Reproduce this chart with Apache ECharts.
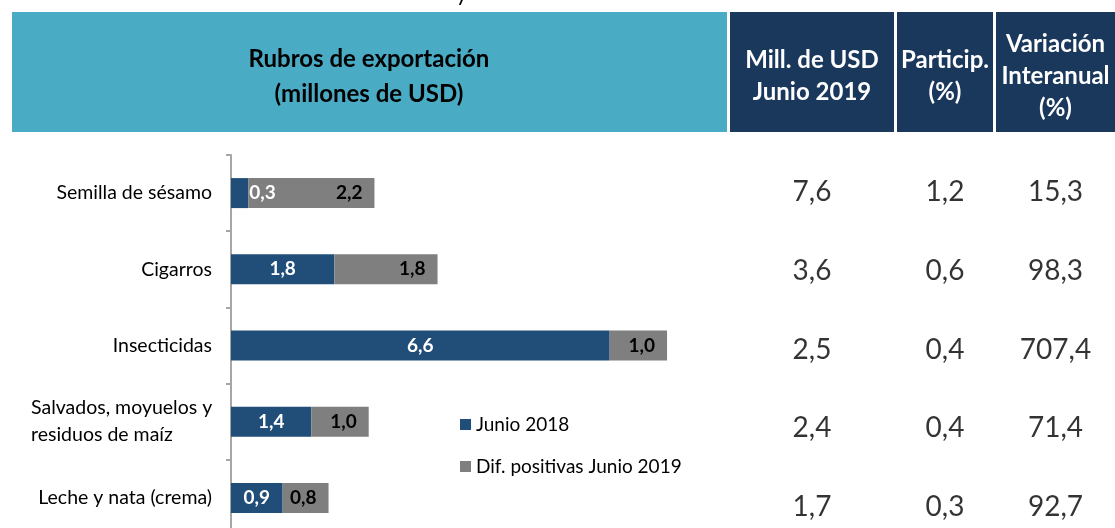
<!DOCTYPE html>
<html lang="es">
<head>
  <meta charset="UTF-8">
  <title>Rubros de exportación</title>
  <script src="https://cdn.jsdelivr.net/npm/echarts@6/dist/echarts.min.js"></script>
  <style>
    html, body { margin: 0; padding: 0; background: #fff; overflow: hidden; }
    #chart { width: 1115px; height: 528px; }
  </style>
</head>
<body>
<div id="chart"></div>
<script>
  // datos
  var rubros = ['Semilla de sésamo', 'Cigarros', 'Insecticidas', 'Salvados, moyuelos y\nresiduos de maíz', 'Leche y nata (crema)'];
  var junio2018 = [0.3, 1.8, 6.6, 1.4, 0.9];
  var difPositivas = [2.2, 1.8, 1.0, 1.0, 0.8];
  var millUsd = [7.6, 3.6, 2.5, 2.4, 1.7];
  var particip = [1.2, 0.6, 0.4, 0.4, 0.3];
  var variacion = [15.3, 98.3, 707.4, 71.4, 92.7];
  var encabezado = 'Rubros de exportación\n(millones de USD)';
  var columnas = ['Mill. de USD\nJunio 2019', 'Particip.\n(%)', 'Variación\nInteranual\n(%)'];

  var FONT = 'Lato, "Open Sans", sans-serif';
  var AZUL = '#214e78', GRIS = '#7f7f7f', TEAL = '#4aabc5', NAVY = '#1a375c';

  function coma(v) { return v.toFixed(1).replace('.', ','); }

  var chart = echarts.init(document.getElementById('chart'));

  // celdas de la tabla (una grilla por columna)
  var celdas = [
    { left: 730, width: 164 },
    { left: 897, width: 96 },
    { left: 996, width: 119 }
  ];
  var tablas = [millUsd, particip, variacion];

  // el eje sigue por debajo del borde inferior, como en el original
  var grids = [{ left: 231, top: 155, width: 459, height: 381, outerBoundsMode: 'none', containLabel: false }];
  var xAxes = [{ type: 'value', min: 0, max: 8, show: false, gridIndex: 0 }];
  var yAxes = [{
    type: 'category', data: rubros, inverse: true, gridIndex: 0,
    axisLine: { lineStyle: { color: '#a6a6a6', width: 2 } },
    axisTick: { show: true, length: 5, lineStyle: { color: '#a6a6a6', width: 2 } },
    axisLabel: {
      color: '#000', fontSize: 19.5, fontFamily: FONT, margin: 19,
      formatter: function (v) {
        if (v.indexOf('\n') < 0) return v;
        return v.split('\n').map(function (l) { return '{m|' + l + '}'; }).join('\n');
      },
      rich: { m: { width: 181, align: 'left', fontSize: 19.5, fontFamily: FONT, color: '#000', lineHeight: 27 } }
    }
  }];

  var series = [
    {
      name: 'Junio 2018', type: 'bar', stack: 'r', barWidth: 30,
      xAxisIndex: 0, yAxisIndex: 0,
      itemStyle: { color: AZUL },
      label: {
        show: true, position: 'inside', color: '#fff', fontWeight: 'bold',
        fontSize: 19, fontFamily: FONT,
        formatter: function (p) { return coma(p.value); }
      },
      data: junio2018.map(function (v, i) {
        return i === 0 ? { value: v, label: { position: 'right', distance: 1 } } : v;
      })
    },
    {
      name: 'Dif. positivas Junio 2019', type: 'bar', stack: 'r', barWidth: 30,
      xAxisIndex: 0, yAxisIndex: 0,
      itemStyle: { color: GRIS },
      label: {
        show: true, position: 'insideRight', distance: 12, color: '#000', fontWeight: 'bold',
        fontSize: 19, fontFamily: FONT,
        formatter: function (p) { return coma(p.value); }
      },
      data: difPositivas
    }
  ];

  tablas.forEach(function (vals, k) {
    var gi = k + 1;
    grids.push({ left: celdas[k].left, width: celdas[k].width, top: 152.6, height: 393.75, outerBoundsMode: 'none', containLabel: false });
    xAxes.push({ type: 'value', min: -1, max: 1, show: false, gridIndex: gi });
    yAxes.push({ type: 'category', data: rubros, inverse: true, show: false, gridIndex: gi });
    series.push({
      type: 'scatter', xAxisIndex: gi, yAxisIndex: gi, symbolSize: 0, silent: true,
      label: {
        show: true, position: 'inside', color: '#000', fontSize: 28, fontFamily: FONT,
        formatter: function (p) { return coma(p.value[2]); }
      },
      data: vals.map(function (v, i) { return [0, i, v]; })
    });
  });

  // encabezado de la tabla
  var graphic = [
    { type: 'text', left: 456, top: -17, style: { text: 'y', fontSize: 22, fontFamily: FONT, fill: '#000' } },
    { type: 'rect', shape: { x: 12, y: 12, width: 715, height: 120 }, style: { fill: TEAL } },
    {
      type: 'text', x: 369, y: 77,
      style: { text: encabezado, fontSize: 24, fontFamily: FONT, fontWeight: 'bold', fill: '#000', align: 'center', verticalAlign: 'middle', lineHeight: 35 }
    }
  ];
  celdas.forEach(function (c, k) {
    graphic.push({ type: 'rect', shape: { x: c.left, y: 12, width: c.width, height: 120 }, style: { fill: NAVY } });
    graphic.push({
      type: 'text', x: c.left + c.width / 2, y: 76,
      style: { text: columnas[k], fontSize: 24, fontFamily: FONT, fontWeight: 'bold', fill: '#fff', align: 'center', verticalAlign: 'middle', lineHeight: 32 }
    });
  });

  chart.setOption({
    animation: false,
    textStyle: { fontFamily: FONT },
    grid: grids,
    xAxis: xAxes,
    yAxis: yAxes,
    legend: {
      orient: 'vertical', left: 455, top: 410, icon: 'rect',
      itemWidth: 11, itemHeight: 11, itemGap: 23,
      textStyle: { fontSize: 19, color: '#000', fontFamily: FONT },
      data: ['Junio 2018', 'Dif. positivas Junio 2019']
    },
    graphic: graphic,
    series: series
  });
</script>
</body>
</html>
